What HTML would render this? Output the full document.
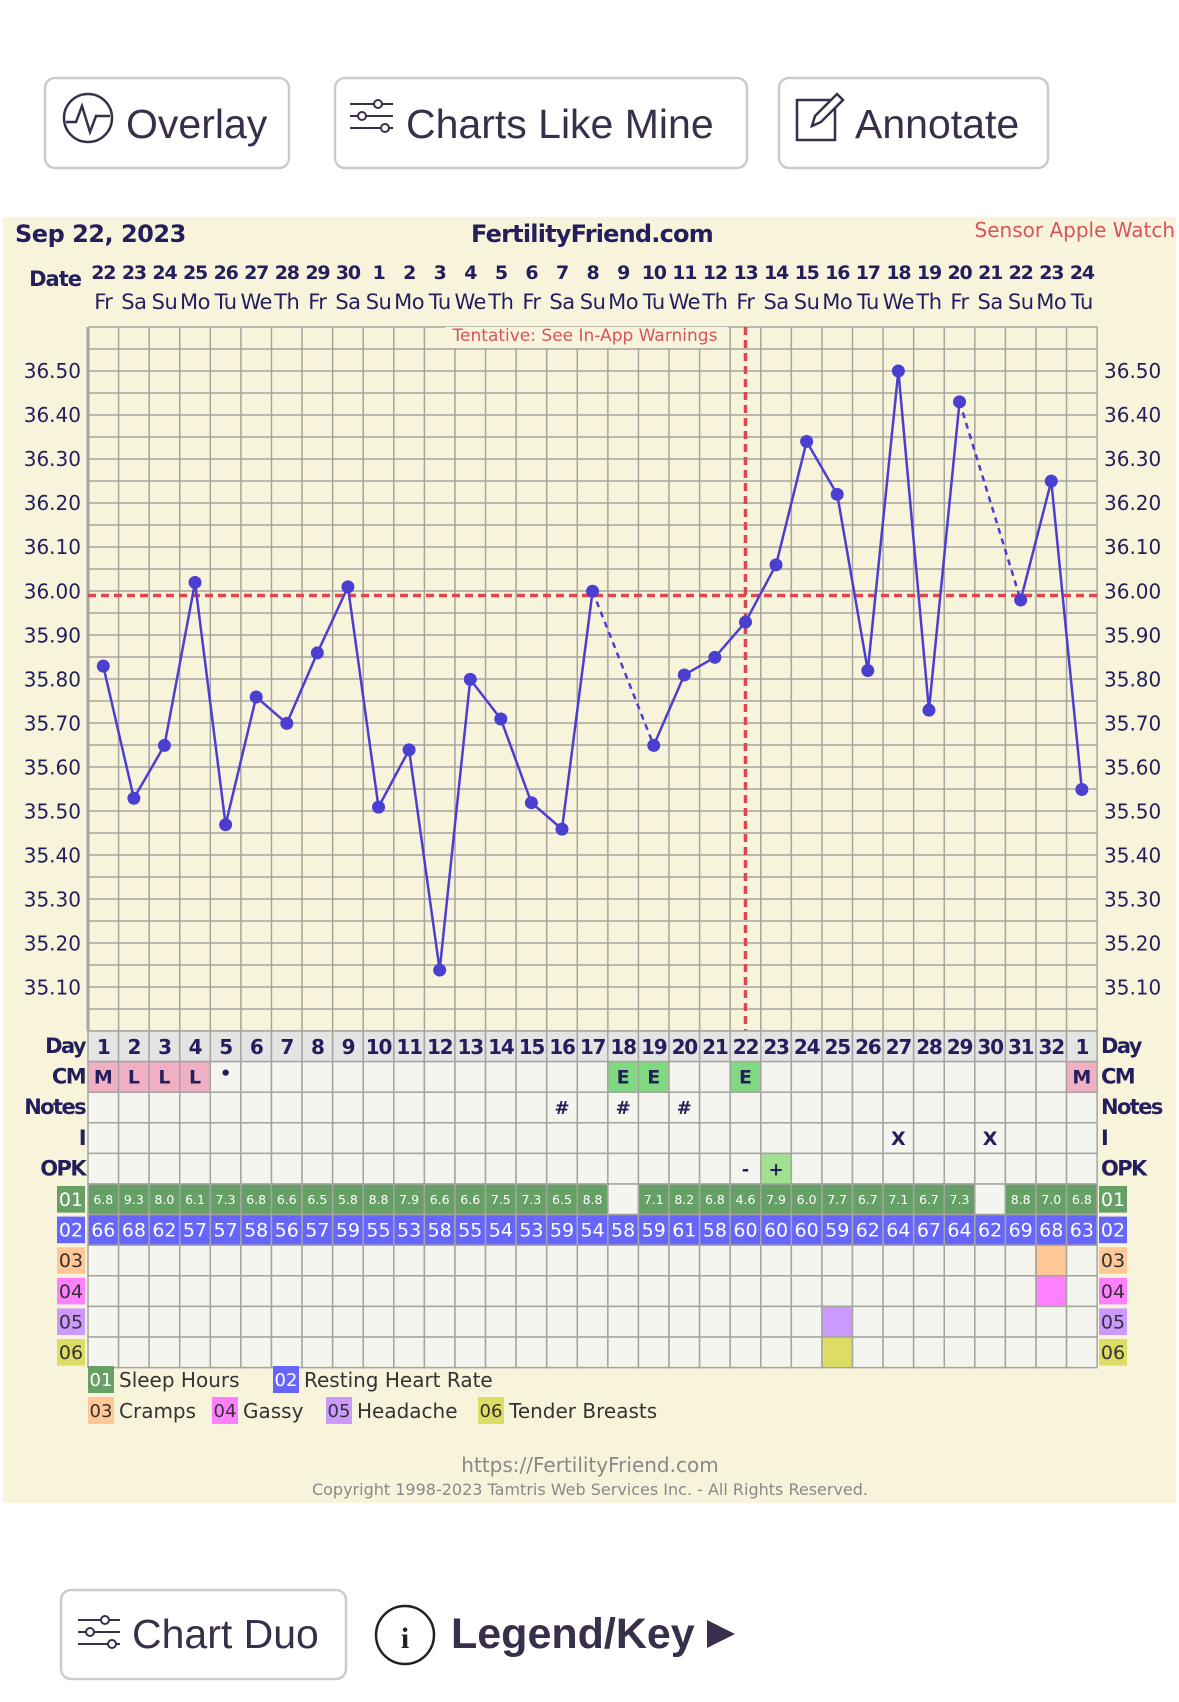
<!DOCTYPE html>
<html><head><meta charset="utf-8"><style>
body{margin:0;width:1179px;height:1702px;background:#fff;overflow:hidden;font-family:"Liberation Sans","DejaVu Sans",sans-serif}
svg{position:absolute;left:0;top:0}
</style></head><body>
<svg id="s" width="1179" height="1702" xmlns="http://www.w3.org/2000/svg"></svg>
<script>
(function(){
const s=document.getElementById('s');let h='';
const N='#231f5c';
function T(x,y,t,sz,o){o=o||{};h+=`<text x="${x}" y="${y}" font-size="${sz}" fill="${o.c||N}" text-anchor="${o.a||'start'}" font-weight="${o.b?'bold':'normal'}" letter-spacing="${o.ls||0}" font-family="${o.f||'DejaVu Sans,Liberation Sans,sans-serif'}">${t}</text>`;}
function R(x,y,w,hh,f,st,sw,rx){h+=`<rect x="${x}" y="${y}" width="${w}" height="${hh}" fill="${f}" ${st?`stroke="${st}" stroke-width="${sw||1}"`:''} rx="${rx||0}"/>`;}
[[45,78,244,90,'Overlay',126],[335,78,412,90,'Charts Like Mine',406],[779,78,269,90,'Annotate',855]].forEach(b=>{R(b[0],b[1],b[2],b[3],'#fff','#ccc',2.5,10);T(b[5],138,b[4],41,{c:'#3a2f4a',f:'Liberation Sans,sans-serif'});});
h+=`<circle cx="88" cy="118" r="24" fill="none" stroke="#3a2f4a" stroke-width="2.5"/><polyline points="66,122 76,122 82,106 90,132 96,116 110,116" fill="none" stroke="#3a2f4a" stroke-width="2.5"/>`;
for(let i=0;i<3;i++){let y=104+i*12;h+=`<line x1="350" y1="${y}" x2="393" y2="${y}" stroke="#3a2f4a" stroke-width="2"/><circle cx="${[378,362,385][i]}" cy="${y}" r="4" fill="#fff" stroke="#3a2f4a" stroke-width="2"/>`;}
h+=`<rect x="797" y="100" width="38" height="40" fill="none" stroke="#3a2f4a" stroke-width="2.5"/><path d="M812 126 L815 116 L837 94 L843 100 L821 122 Z" fill="#fff" stroke="#3a2f4a" stroke-width="2.5"/>`;
R(3,217,1173,1286,'#f8f4dc');
T(15,242,'Sep 22, 2023',24,{b:1,ls:-0.5});
T(592,242,'FertilityFriend.com',24,{b:1,a:'middle',ls:-0.8});
T(1175,237,'Sensor Apple Watch',20,{c:'#d9535c',a:'end'});
const L=88,W=30.58,cx=i=>L+W*(i+0.5);
T(81,286,'Date',21,{b:1,a:'end',ls:-1});
const dates=[22,23,24,25,26,27,28,29,30,1,2,3,4,5,6,7,8,9,10,11,12,13,14,15,16,17,18,19,20,21,22,23,24];
const wd=['Fr','Sa','Su','Mo','Tu','We','Th'];
dates.forEach((d,i)=>{T(cx(i),279,d,19,{b:1,a:'middle',ls:-1.2});T(cx(i),309,wd[i%7],21,{a:'middle',ls:-0.5});});
const gTop=327,gBot=1031;
for(let y=gTop;y<=gBot+0.5;y+=22)h+=`<line x1="${L}" y1="${y}" x2="${L+W*33}" y2="${y}" stroke="#a5a5a0" stroke-width="1.5"/>`;
for(let i=0;i<=33;i++)h+=`<line x1="${L+W*i}" y1="${gTop}" x2="${L+W*i}" y2="${gBot}" stroke="#a5a5a0" stroke-width="${i==0?3:1.5}"/>`;
const yT=t=>371+(36.5-t)*440.5;
for(let k=0;k<=14;k++){let t=(36.5-k*0.1).toFixed(2),y=yT(+t)+7;T(81,y,t,20,{a:'end'});T(1104,y,t,20);}
R(445,327,283,21,'#f8f4dc');
T(585,341,'Tentative: See In-App Warnings',17,{c:'#d9535c',a:'middle'});
h+=`<line x1="${L}" y1="595.5" x2="${L+W*33}" y2="595.5" stroke="#e0474c" stroke-width="3.5" stroke-dasharray="8,5"/>`;
h+=`<line x1="${cx(21)}" y1="${gTop}" x2="${cx(21)}" y2="${gBot}" stroke="#e0474c" stroke-width="3.5" stroke-dasharray="8,5"/>`;
const tv=[35.83,35.53,35.65,36.02,35.47,35.76,35.70,35.86,36.01,35.51,35.64,35.14,35.80,35.71,35.52,35.46,36.00,null,35.65,35.81,35.85,35.93,36.06,36.34,36.22,35.82,36.50,35.73,36.43,null,35.98,36.25,35.55];
let seg=[];
for(let i=0;i<33;i++){if(tv[i]==null)continue;seg.push(i);}
for(let k=1;k<seg.length;k++){let a=seg[k-1],b=seg[k];h+=`<line x1="${cx(a)}" y1="${yT(tv[a])}" x2="${cx(b)}" y2="${yT(tv[b])}" stroke="#4a3fd0" stroke-width="2.5" ${b-a>1?'stroke-dasharray="6,5"':''}/>`;}
seg.forEach(i=>h+=`<circle cx="${cx(i)}" cy="${yT(tv[i])}" r="6.5" fill="#4a3fd0"/>`);
const RT=1031,RH=30.6;
const labels=['Day','CM','Notes','I','OPK'];
labels.forEach((l,r)=>{let y=RT+RH*r+22;T(85,y,l,21,{b:1,a:'end',ls:-1.6});T(1101,y,l,21,{b:1,ls:-1.6});});
const rc=['#66a066','#6666ff','#ffc896','#ff80ff','#cc99ff','#dddd66'];
for(let k=0;k<6;k++){let y=RT+RH*(5+k);R(57,y+2,28,RH-4,rc[k]);R(1099,y+2,28,RH-4,rc[k]);T(71,y+22,'0'+(k+1),19,{a:'middle',c:k<2?'#fff':'#333'});T(1113,y+22,'0'+(k+1),19,{a:'middle',c:k<2?'#fff':'#333'});}
const s01=['6.8','9.3','8.0','6.1','7.3','6.8','6.6','6.5','5.8','8.8','7.9','6.6','6.6','7.5','7.3','6.5','8.8','','7.1','8.2','6.8','4.6','7.9','6.0','7.7','6.7','7.1','6.7','7.3','','8.8','7.0','6.8'];
const s02=[66,68,62,57,57,58,56,57,59,55,53,58,55,54,53,59,54,58,59,61,58,60,60,60,59,62,64,67,64,62,69,68,63];
const cm={0:'M',1:'L',2:'L',3:'L',32:'M'};
for(let i=0;i<33;i++){const x=L+W*i;
 for(let r=0;r<11;r++){const y=RT+RH*r;let f='#f5f5ef';
  if(r==0)f='#e4e4e4';
  if(r==1&&cm[i])f='#f0b0c4';
  if(r==1&&[17,18,21].includes(i))f='#80d880';
  if(r==4&&i==22)f='#a0e090';
  if(r==5&&s01[i])f='#66a066';
  if(r==6)f='#6666ff';
  if(r==7&&i==31)f='#ffc896';
  if(r==8&&i==31)f='#ff80ff';
  if(r==9&&i==24)f='#cc99ff';
  if(r==10&&i==24)f='#dddd66';
  R(x,y,W,RH,f,'#a5a5a0',1.5);}
 const c=cx(i);
 T(c,RT+23,i==32?1:i+1,20,{b:1,a:'middle',ls:-1.2});
 if(cm[i])T(c,RT+RH+22,cm[i],19,{b:1,a:'middle'});
 if([17,18,21].includes(i))T(c,RT+RH+22,'E',19,{b:1,a:'middle'});
 if(i==4)T(c,RT+RH+18,'•',18,{b:1,a:'middle'});
 if([15,17,19].includes(i))T(c,RT+2*RH+22,'#',18,{b:1,a:'middle'});
 if([26,29].includes(i))T(c,RT+3*RH+22,'X',19,{b:1,a:'middle'});
 if(i==21)T(c,RT+4*RH+22,'-',18,{b:1,a:'middle'});
 if(i==22)T(c,RT+4*RH+22,'+',18,{b:1,a:'middle'});
 if(s01[i])T(c,RT+5*RH+20,s01[i],12.5,{a:'middle',c:'#fff'});
 T(c,RT+6*RH+22,s02[i],19,{a:'middle',c:'#fff'});
}
[[88,1379,'01','Sleep Hours',0],[273,1379,'02','Resting Heart Rate',1],[88,1410,'03','Cramps',2],[212,1410,'04','Gassy',3],[326,1410,'05','Headache',4],[478,1410,'06','Tender Breasts',5]].forEach(e=>{R(e[0],e[1]-13,26,27,rc[e[4]]);T(e[0]+13,e[1]+7,e[2],18,{a:'middle',c:e[4]<2?'#fff':'#333'});T(e[0]+31,e[1]+8,e[3],20,{c:'#333'});});
T(590,1472,'https://FertilityFriend.com',20,{a:'middle',c:'#888'});
T(590,1495,'Copyright 1998-2023 Tamtris Web Services Inc. - All Rights Reserved.',16,{a:'middle',c:'#888'});
R(61,1590,285,89,'#fff','#ccc',2.5,10);
for(let i=0;i<3;i++){let y=1620+i*12;h+=`<line x1="78" y1="${y}" x2="120" y2="${y}" stroke="#3a2f4a" stroke-width="2"/><circle cx="${[105,90,112][i]}" cy="${y}" r="4" fill="#fff" stroke="#3a2f4a" stroke-width="2"/>`;}
T(132,1648,'Chart Duo',41,{c:'#3a2f4a',f:'Liberation Sans,sans-serif'});
h+=`<circle cx="405" cy="1635" r="29" fill="none" stroke="#222" stroke-width="2.5"/>`;
T(405,1648,'i',30,{a:'middle',c:'#222',b:1,f:'Liberation Serif,serif'});
T(451,1648,'Legend/Key',43,{b:1,c:'#3a2f4a',f:'Liberation Sans,sans-serif'});
h+=`<polygon points="707,1620 735,1634 707,1648" fill="#3a2f4a"/>`;
s.innerHTML=h;
})();
</script>
</body></html>
